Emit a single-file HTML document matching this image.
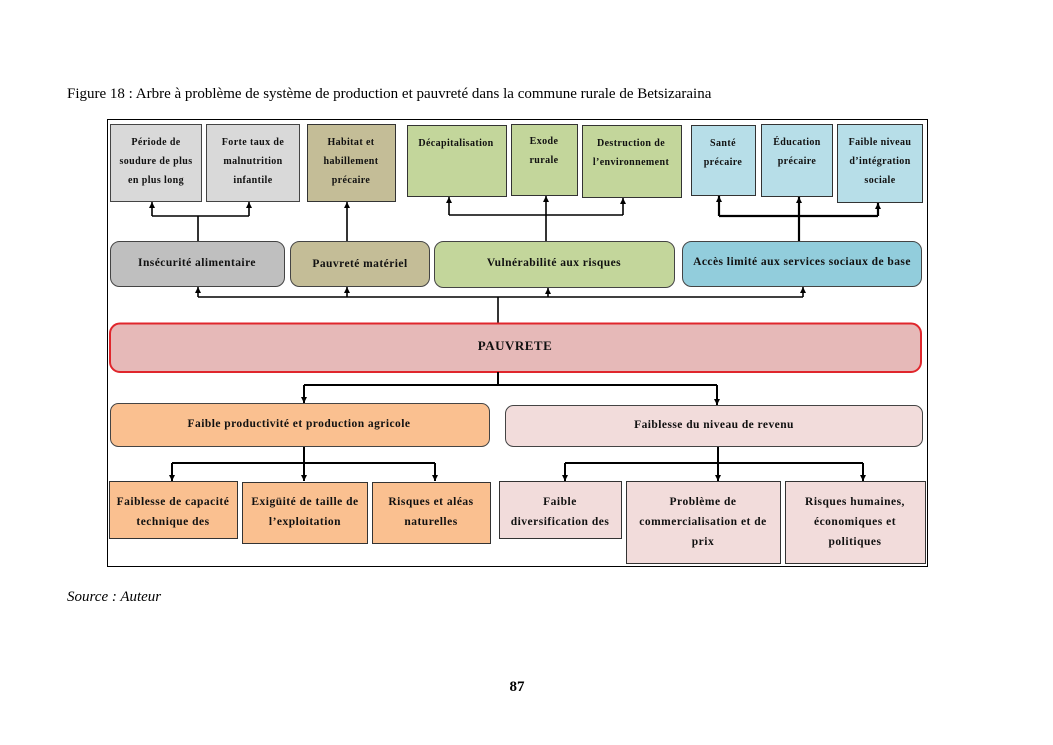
<!DOCTYPE html>
<html>
<head>
<meta charset="utf-8">
<style>
  html,body{margin:0;padding:0;background:#fff;}
  body{width:1053px;height:745px;overflow:hidden;}
  svg{display:block;}
  .t{font-family:"Liberation Serif",serif;font-weight:bold;fill:#111;}
  .s{font-size:10px;letter-spacing:0.4px;}
  .m{font-size:11.5px;letter-spacing:0.45px;}
  .b{font-size:11.5px;letter-spacing:0.5px;}
</style>
</head>
<body>
<svg width="1053" height="745" viewBox="0 0 1053 745" xmlns="http://www.w3.org/2000/svg">
  <defs>
    <marker id="ah" viewBox="0 0 10 10" refX="10" refY="5" markerWidth="6" markerHeight="6" orient="auto" markerUnits="userSpaceOnUse">
      <path d="M0,0 L10,5 L0,10 z" fill="#000"/>
    </marker>
  </defs>

  <!-- caption -->
  <text x="67" y="98" font-family="Liberation Serif, serif" font-size="15" fill="#000">Figure 18 : Arbre à problème de système de production et pauvreté dans la commune rurale de Betsizaraina</text>

  <!-- frame -->
  <rect x="107.5" y="119.5" width="820" height="447" fill="#fff" stroke="#000" stroke-width="1"/>

  <!-- top row boxes -->
  <rect x="110.5" y="124.5" width="91" height="77" fill="#d9d9d9" stroke="#444" stroke-width="1"/>
  <rect x="206.5" y="124.5" width="93" height="77" fill="#d9d9d9" stroke="#444" stroke-width="1"/>
  <rect x="307.5" y="124.5" width="88" height="77" fill="#c4bd97" stroke="#333" stroke-width="1"/>
  <rect x="407.5" y="125.5" width="99" height="71" fill="#c3d69b" stroke="#333" stroke-width="1"/>
  <rect x="511.5" y="124.5" width="66" height="71" fill="#c3d69b" stroke="#333" stroke-width="1"/>
  <rect x="582.5" y="125.5" width="99" height="72" fill="#c3d69b" stroke="#333" stroke-width="1"/>
  <rect x="691.5" y="125.5" width="64" height="70" fill="#b7dee8" stroke="#333" stroke-width="1"/>
  <rect x="761.5" y="124.5" width="71" height="72" fill="#b7dee8" stroke="#333" stroke-width="1"/>
  <rect x="837.5" y="124.5" width="85" height="78" fill="#b7dee8" stroke="#333" stroke-width="1"/>

  <g class="t s" text-anchor="middle">
    <text x="156" y="145">Période de</text>
    <text x="156" y="164">soudure de plus</text>
    <text x="156" y="183">en plus long</text>
    <text x="253" y="145">Forte taux de</text>
    <text x="253" y="164">malnutrition</text>
    <text x="253" y="183">infantile</text>
    <text x="351" y="145">Habitat et</text>
    <text x="351" y="164">habillement</text>
    <text x="351" y="183">précaire</text>
    <text x="456" y="146">Décapitalisation</text>
    <text x="544" y="144">Exode</text>
    <text x="544" y="163">rurale</text>
    <text x="631" y="146">Destruction de</text>
    <text x="631" y="165">l’environnement</text>
    <text x="723" y="146">Santé</text>
    <text x="723" y="165">précaire</text>
    <text x="797" y="145">Éducation</text>
    <text x="797" y="164">précaire</text>
    <text x="880" y="145">Faible niveau</text>
    <text x="880" y="164">d’intégration</text>
    <text x="880" y="183">sociale</text>
  </g>

  <!-- second row rounded boxes -->
  <rect x="110.5" y="241.5" width="174" height="45" rx="9" fill="#bfbfbf" stroke="#444" stroke-width="1"/>
  <rect x="290.5" y="241.5" width="139" height="45" rx="9" fill="#c4bd97" stroke="#444" stroke-width="1"/>
  <rect x="434.5" y="241.5" width="240" height="46" rx="9" fill="#c3d69b" stroke="#444" stroke-width="1"/>
  <rect x="682.5" y="241.5" width="239" height="45" rx="9" fill="#92cddc" stroke="#444" stroke-width="1"/>

  <g class="t m" text-anchor="middle">
    <text x="197" y="266">Insécurité alimentaire</text>
    <text x="360" y="267">Pauvreté matériel</text>
    <text x="554" y="266">Vulnérabilité aux risques</text>
    <text x="802" y="265">Accès limité aux services sociaux de base</text>
  </g>

  <!-- connectors top -->
  <g stroke="#000" stroke-width="1.6" fill="none">
    <line x1="198" y1="241" x2="198" y2="216"/>
    <line x1="152" y1="216" x2="249" y2="216"/>
    <line x1="152" y1="216" x2="152" y2="202" marker-end="url(#ah)"/>
    <line x1="249" y1="216" x2="249" y2="202" marker-end="url(#ah)"/>
    <line x1="347" y1="241" x2="347" y2="202" marker-end="url(#ah)"/>
    <line x1="546" y1="241" x2="546" y2="196" marker-end="url(#ah)"/>
    <line x1="449" y1="215" x2="623" y2="215"/>
    <line x1="449" y1="215" x2="449" y2="197" marker-end="url(#ah)"/>
    <line x1="623" y1="215" x2="623" y2="198" marker-end="url(#ah)"/>
  </g>
  <g stroke="#000" stroke-width="2.2" fill="none">
    <line x1="799" y1="241" x2="799" y2="197" marker-end="url(#ah)"/>
    <line x1="719" y1="216" x2="878" y2="216"/>
    <line x1="719" y1="216" x2="719" y2="196" marker-end="url(#ah)"/>
    <line x1="878" y1="216" x2="878" y2="203" marker-end="url(#ah)"/>
  </g>

  <!-- connectors PAUVRETE to row 2 -->
  <g stroke="#000" stroke-width="1.6" fill="none">
    <line x1="498" y1="323" x2="498" y2="297"/>
    <line x1="198" y1="297" x2="803" y2="297"/>
    <line x1="198" y1="297" x2="198" y2="287" marker-end="url(#ah)"/>
    <line x1="347" y1="297" x2="347" y2="287" marker-end="url(#ah)"/>
    <line x1="548" y1="297" x2="548" y2="288" marker-end="url(#ah)"/>
    <line x1="803" y1="297" x2="803" y2="287" marker-end="url(#ah)"/>
  </g>

  <!-- PAUVRETE -->
  <rect x="110" y="323.5" width="811" height="48.5" rx="10" fill="#e6b9b8" stroke="#e0262c" stroke-width="2"/>
  <text class="t" x="515" y="350" text-anchor="middle" font-size="13" letter-spacing="0.5">PAUVRETE</text>

  <!-- connectors PAUVRETE down -->
  <g stroke="#000" stroke-width="2" fill="none">
    <line x1="498" y1="372" x2="498" y2="385"/>
    <line x1="304" y1="385" x2="717" y2="385"/>
    <line x1="304" y1="385" x2="304" y2="403" marker-end="url(#ah)"/>
    <line x1="717" y1="385" x2="717" y2="405" marker-end="url(#ah)"/>
  </g>

  <!-- third row -->
  <rect x="110.5" y="403.5" width="379" height="43" rx="8" fill="#fac090" stroke="#444" stroke-width="1"/>
  <rect x="505.5" y="405.5" width="417" height="41" rx="8" fill="#f2dcdb" stroke="#444" stroke-width="1"/>
  <g class="t m" text-anchor="middle">
    <text x="299" y="427">Faible productivité et production agricole</text>
    <text x="714" y="428">Faiblesse du niveau de revenu</text>
  </g>

  <!-- connectors bottom -->
  <g stroke="#000" stroke-width="2" fill="none">
    <line x1="304" y1="447" x2="304" y2="481" marker-end="url(#ah)"/>
    <line x1="172" y1="463" x2="435" y2="463"/>
    <line x1="172" y1="463" x2="172" y2="481" marker-end="url(#ah)"/>
    <line x1="435" y1="463" x2="435" y2="481" marker-end="url(#ah)"/>
    <line x1="718" y1="447" x2="718" y2="481" marker-end="url(#ah)"/>
    <line x1="565" y1="463" x2="863" y2="463"/>
    <line x1="565" y1="463" x2="565" y2="481" marker-end="url(#ah)"/>
    <line x1="863" y1="463" x2="863" y2="481" marker-end="url(#ah)"/>
  </g>

  <!-- bottom boxes -->
  <rect x="109.5" y="481.5" width="128" height="57" fill="#fac090" stroke="#333" stroke-width="1"/>
  <rect x="242.5" y="482.5" width="125" height="61" fill="#fac090" stroke="#333" stroke-width="1"/>
  <rect x="372.5" y="482.5" width="118" height="61" fill="#fac090" stroke="#333" stroke-width="1"/>
  <rect x="499.5" y="481.5" width="122" height="57" fill="#f2dcdb" stroke="#333" stroke-width="1"/>
  <rect x="626.5" y="481.5" width="154" height="82" fill="#f2dcdb" stroke="#333" stroke-width="1"/>
  <rect x="785.5" y="481.5" width="140" height="82" fill="#f2dcdb" stroke="#333" stroke-width="1"/>

  <g class="t b" text-anchor="middle">
    <text x="173" y="505">Faiblesse de capacité</text>
    <text x="173" y="525">technique des</text>
    <text x="305" y="505">Exigüité de taille de</text>
    <text x="305" y="525">l’exploitation</text>
    <text x="431" y="505">Risques et aléas</text>
    <text x="431" y="525">naturelles</text>
    <text x="560" y="505">Faible</text>
    <text x="560" y="525">diversification des</text>
    <text x="703" y="505">Problème de</text>
    <text x="703" y="525">commercialisation et de</text>
    <text x="703" y="545">prix</text>
    <text x="855" y="505">Risques humaines,</text>
    <text x="855" y="525">économiques et</text>
    <text x="855" y="545">politiques</text>
  </g>

  <!-- source and page number -->
  <text x="67" y="601" font-family="Liberation Serif, serif" font-size="15" font-style="italic" fill="#000">Source : Auteur</text>
  <text x="517" y="691" font-family="Liberation Serif, serif" font-size="15" font-weight="bold" text-anchor="middle" fill="#000">87</text>
</svg>
</body>
</html>
